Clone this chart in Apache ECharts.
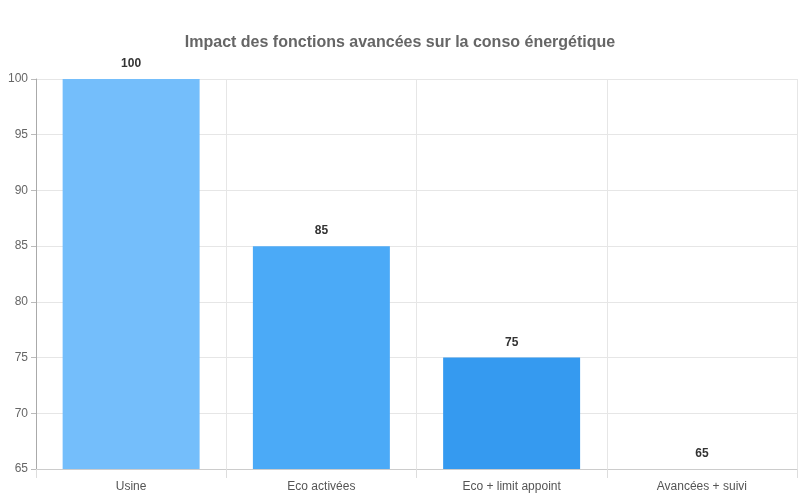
<!DOCTYPE html>
<html>
<head>
<meta charset="utf-8">
<script src="https://cdn.jsdelivr.net/npm/echarts@6/dist/echarts.min.js"></script>
<style>html,body{margin:0;padding:0;background:#fff}#c{width:800px;height:500px}</style>
</head>
<body>
<div id="c"></div>
<script>
const categories = ['Usine', 'Eco activées', 'Eco + limit appoint', 'Avancées + suivi'];
const values = [100, 85, 75, 65];
const barColors = ['#74BEFB', '#4BAAF7', '#359AF0', '#1E88E5'];
const yMin = 65, yMax = 100, yInterval = 5;

const chart = echarts.init(document.getElementById('c'));
chart.setOption({
  animation: false,
  title: {
    text: 'Impact des fonctions avancées sur la conso énergétique',
    left: 'center', top: 30,
    textStyle: { fontFamily: 'Liberation Sans, Arial, sans-serif', fontSize: 16, fontWeight: 'bold', color: '#666' }
  },
  grid: { left: 36, right: 3, top: 79, bottom: 31 },
  xAxis: {
    type: 'category',
    data: categories,
    axisLine: { show: true, lineStyle: { color: '#ccc' } },
    axisTick: { show: true, length: 9, lineStyle: { color: '#ddd' } },
    splitLine: { show: true, lineStyle: { color: '#e6e6e6' } },
    axisLabel: { color: '#555', fontSize: 12, margin: 12, fontFamily: 'Liberation Sans, Arial, sans-serif' }
  },
  yAxis: {
    type: 'value',
    min: yMin, max: yMax, interval: yInterval,
    axisLine: { show: true, lineStyle: { color: '#aaa' } },
    axisTick: { show: true, length: 5, lineStyle: { color: '#bbb' } },
    splitLine: { show: true, lineStyle: { color: '#e6e6e6' } },
    axisLabel: { color: '#666', fontSize: 12, margin: 8, fontFamily: 'Liberation Sans, Arial, sans-serif' }
  },
  series: [{
    type: 'bar',
    data: values.map((v, i) => ({ value: v, itemStyle: { color: barColors[i] } })),
    barWidth: '72%',
    label: {
      show: true, position: 'top', distance: 9,
      color: '#333', fontWeight: 'bold', fontSize: 12,
      fontFamily: 'Liberation Sans, Arial, sans-serif'
    }
  }]
});
</script>
</body>
</html>
